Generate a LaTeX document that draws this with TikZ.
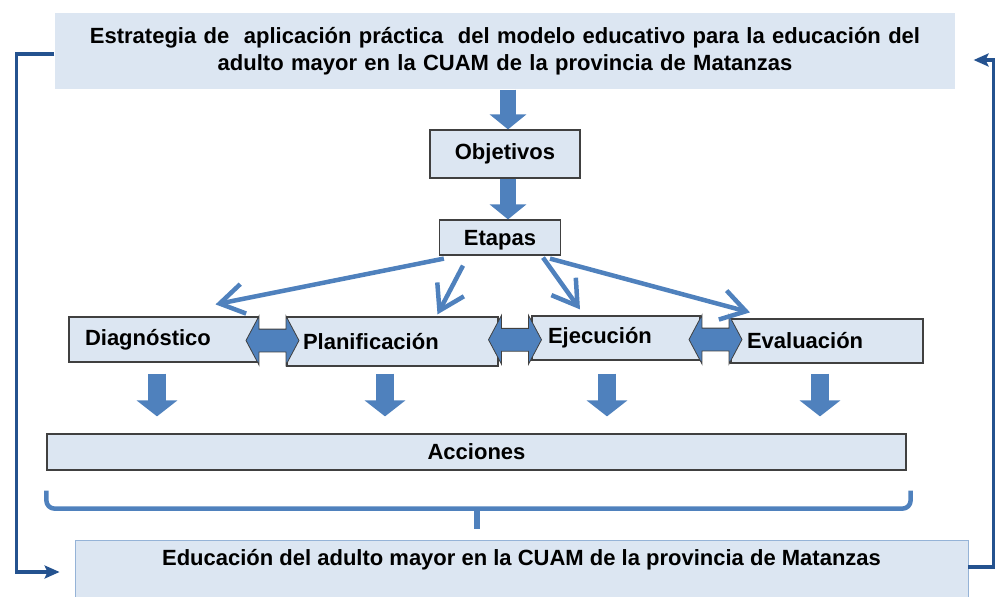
\documentclass[tikz,border=0pt]{standalone}
\usepackage{fontspec}
\setmainfont{Liberation Sans}
\usetikzlibrary{arrows.meta,shapes.arrows,calc}
\definecolor{boxfill}{HTML}{DCE6F2}
\definecolor{boxline}{HTML}{404040}
\definecolor{arrowblue}{HTML}{4F81BD}
\definecolor{linkblue}{HTML}{24528F}
\definecolor{botline}{HTML}{95B3D7}
\tikzset{
  box/.style = {rectangle, draw=boxline, fill=boxfill, line width=1.2pt, inner sep=0pt, font=\bfseries\fontsize{22}{27}\selectfont},
  stagebox/.style = {box, align=left, inner xsep=16pt, text width=#1},
  titlebox/.style = {box, draw=none, align=center},
  endbox/.style = {box, draw=botline, line width=0.8pt},
  fatarrow/.style = {draw=arrowblue, line width=16pt, -{Triangle[length=15pt,width=36pt]}},
  downarrow/.style = {draw=arrowblue, line width=18pt, -{Triangle[length=16pt,width=40pt]}},
  twoway/.style = {double arrow, draw=boxline, fill=arrowblue, line width=0.8pt, inner xsep=0pt, inner ysep=11pt, minimum height=53pt, double arrow head extend=13pt, double arrow tip angle=124},
  etlink/.style = {draw=arrowblue, line width=4.5pt, -{Straight Barb[length=24pt,width=30pt]}},
  feedback/.style = {draw=linkblue, line width=3.5pt, -{Stealth[length=15pt,width=13pt,inset=3pt]}},
  brace/.style = {draw=arrowblue, line width=4.5pt, rounded corners=8pt},
}

\begin{document}
\begin{tikzpicture}[x=1pt,y=-1pt]
\useasboundingbox (0,0) rectangle (997,597);
% boxes
\node [titlebox, minimum width=900pt, minimum height=76pt, text width=880pt] (top) at (505,51)
  {Estrategia de\ \ aplicación práctica\ \ del modelo educativo para la educación del\\adulto mayor en la CUAM de la provincia de Matanzas};
\node [box, minimum width=150pt, minimum height=48pt] (obj) at (505,154) {Objetivos};
\node [box, minimum width=121pt, minimum height=35pt, text depth=0pt] (et) at (500,237.5) {Etapas};
\node [stagebox=157pt, minimum height=45pt] (diag) at (163.5,339.5) {Diagnóstico};
\node [stagebox=179pt, minimum height=49pt] (plan) at (392.5,341.5) {Planificación};
\node [stagebox=136pt, minimum height=44pt] (ejec) at (616,338) {Ejecución};
\node [stagebox=160pt, minimum height=44pt] (eval) at (827,341) {Evaluación};
\node [box, minimum width=859pt, minimum height=36pt] (acc) at (476.5,452) {Acciones};
\node [endbox, anchor=north, minimum width=893pt, inner ysep=9pt, text depth=40pt] (bot) at (521.5,540)
  {Educación del adulto mayor en la CUAM de la provincia de Matanzas};

% block arrows
\draw [fatarrow] ([xshift=3pt]top.south) -- ([xshift=3pt]obj.north);
\draw [fatarrow] ([xshift=3pt]obj.south) -- ([xshift=3pt]obj.south |- et.north);
\foreach \s/\dx/\gap in {diag/-6.5/11, plan/-7.5/7, ejec/-9/13, eval/-7/10}
  \draw [downarrow, shorten <=\gap pt, shorten >=17pt] ([xshift=\dx pt]\s.south) -- ([xshift=\dx pt]\s.south |- acc.north);
\node [twoway] (dp) at ($(diag.east)!0.5!(plan.west)$) {};
\node [twoway] (pe) at ($(plan.east)!0.5!(ejec.west)$) {};
\node [twoway] (ee) at ($(ejec.east)!0.5!(eval.west)$) {};

% links from Etapas
\draw [etlink] ([xshift=5pt,yshift=-3pt]et.south west) -- ([xshift=52pt,yshift=12pt]diag.north);
\draw [etlink] ([xshift=-37pt,yshift=-10pt]et.south) -- ([xshift=45pt,yshift=2pt]plan.north);
\draw [etlink] ([xshift=43pt,yshift=-2pt]et.south) -- ([xshift=-36pt,yshift=6pt]ejec.north);
\draw [etlink] ([xshift=50pt,yshift=-3pt]et.south) -- ([xshift=-77pt,yshift=6pt]eval.north);

% brace under Acciones
\draw [brace] ([yshift=-20pt]acc.south west) |- ([yshift=-38pt]acc.south) -| ([xshift=4pt,yshift=-20pt]acc.south east);
\draw [brace, rounded corners=0pt, line width=6pt] ([yshift=-38pt]acc.south) -- ++(0,20);

% feedback loop
\draw [feedback, shorten >=15pt] ([yshift=-3pt]top.west) -- ++(-38,0) |- ([yshift=-32pt]bot.north west);
\draw [feedback, shorten >=18pt] ([yshift=-27pt]bot.north east) -- ++(25,0) |- ([yshift=-9pt]top.east);
\end{tikzpicture}
\end{document}
